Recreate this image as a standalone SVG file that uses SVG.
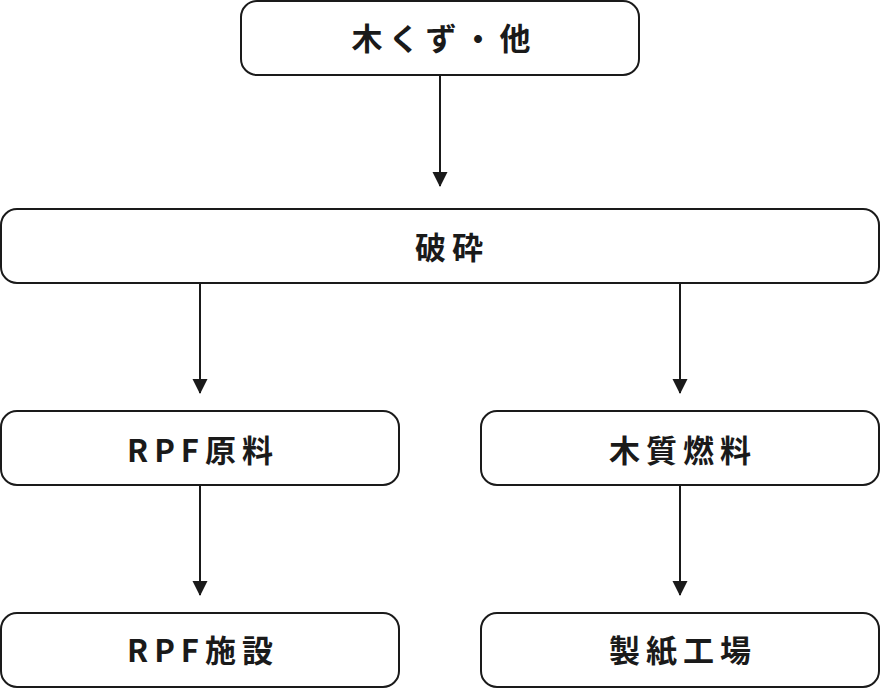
<svg xmlns="http://www.w3.org/2000/svg" width="880" height="688" viewBox="0 0 880 688">
<style>
.box{fill:#fff;stroke:#1a1a1a;stroke-width:2}
.lbl{font-family:"Noto Sans CJK JP","Noto Sans",sans-serif;font-weight:700;font-size:31px;fill:#1a1a1a;letter-spacing:6px;text-anchor:middle;dominant-baseline:central}
.con{stroke:#1a1a1a;stroke-width:2;fill:none;marker-end:url(#ah)}
</style>
<defs>
<marker id="ah" markerUnits="userSpaceOnUse" markerWidth="16" markerHeight="18" refX="14" refY="8" orient="auto">
<path d="M0,0.5 L15,8 L0,15.5 Z" fill="#1a1a1a"/>
</marker>
</defs>
<rect width="880" height="688" fill="#fff"/>
<g id="connectors">
<line class="con" x1="440" y1="75" x2="440" y2="186"/>
<line class="con" x1="200" y1="283" x2="200" y2="393"/>
<line class="con" x1="680" y1="283" x2="680" y2="393"/>
<line class="con" x1="200" y1="485" x2="200" y2="595"/>
<line class="con" x1="680" y1="485" x2="680" y2="595"/>
</g>
<g id="n1"><rect class="box" x="241" y="1" width="398" height="74" rx="16"/><text class="lbl" x="444" y="36">木くず・他</text></g>
<g id="n2"><rect class="box" x="1" y="209" width="878" height="74" rx="16"/><text class="lbl" x="452" y="245">破砕</text></g>
<g id="n3"><rect class="box" x="1" y="411" width="398" height="74" rx="16"/><text class="lbl" x="203" y="448">RPF原料</text></g>
<g id="n4"><rect class="box" x="481" y="411" width="398" height="74" rx="16"/><text class="lbl" x="683" y="448">木質燃料</text></g>
<g id="n5"><rect class="box" x="1" y="613" width="398" height="74" rx="16"/><text class="lbl" x="203" y="648">RPF施設</text></g>
<g id="n6"><rect class="box" x="481" y="613" width="398" height="74" rx="16"/><text class="lbl" x="683" y="648">製紙工場</text></g>
</svg>
